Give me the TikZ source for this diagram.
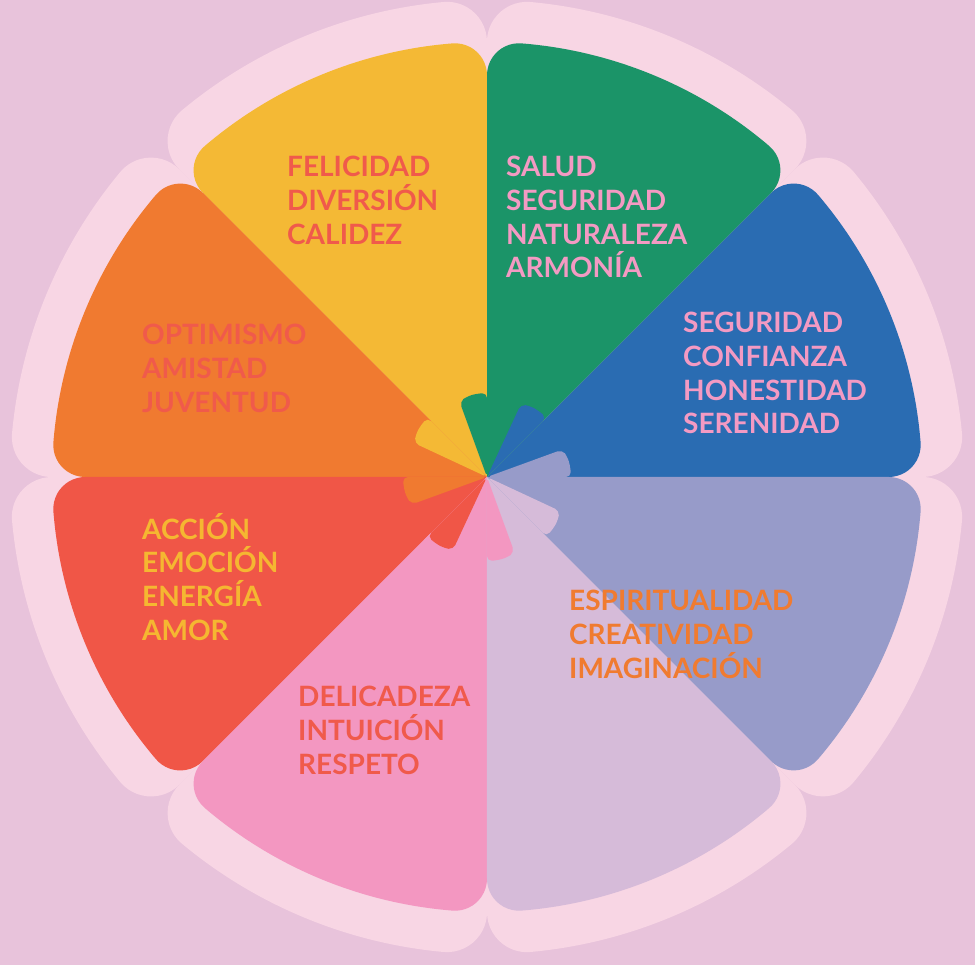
\documentclass[tikz,border=0pt]{standalone}
\usepackage{fontspec}
\setmainfont{Lato}
\definecolor{bgpink}{HTML}{E8C3DB}
\definecolor{rimpink}{HTML}{F8D6E4}
\definecolor{secyellow}{HTML}{F4B935}
\definecolor{secgreen}{HTML}{1B9468}
\definecolor{secblue}{HTML}{2A6CB2}
\definecolor{seclavender}{HTML}{979BC9}
\definecolor{seclilac}{HTML}{D6BBD9}
\definecolor{secpink}{HTML}{F397C1}
\definecolor{secred}{HTML}{F05647}
\definecolor{secorange}{HTML}{F07A30}
\definecolor{wordcoral}{HTML}{F05A4B}
\definecolor{wordpink}{HTML}{F39AC3}
\definecolor{wordyellow}{HTML}{F5B731}
\definecolor{wordorange}{HTML}{F07B30}

\begin{document}
\begin{tikzpicture}
		[x=1pt, y=1pt,
		wordsty/.style={anchor=north west, inner sep=0pt, align=left,
			font=\fontsize{28}{33.7}\selectfont\bfseries}]
		\fill[bgpink] (-487,-488) rectangle (488,477);
		
		\pgfmathsetmacro{\rimcut}{asin(40/437)}
		\pgfmathsetmacro{\rimfoot}{437*cos(\rimcut)}
		\pgfmathsetmacro{\seccut}{asin(32/403)}
		\pgfmathsetmacro{\secfoot}{403*cos(\seccut)}
		
		\foreach \ang in {0,45,...,315}
			\fill[rimpink] (0,0) -- (\ang:\rimfoot)
				arc[start angle=\ang-90, end angle=\ang+\rimcut, radius=40]
				arc[start angle=\ang+\rimcut, end angle=\ang+45-\rimcut, radius=477]
				arc[start angle=\ang+45-\rimcut, end angle=\ang+135, radius=40] -- cycle;
		
		\foreach \ang/\col in {0/secblue, 45/secgreen, 90/secyellow, 135/secorange,
				180/secred, 225/secpink, 270/seclilac, 315/seclavender}
			\fill[\col] (0,0) -- (\ang:\secfoot)
				arc[start angle=\ang-90, end angle=\ang+\seccut, radius=32]
				arc[start angle=\ang+\seccut, end angle=\ang+45-\seccut, radius=435]
				arc[start angle=\ang+45-\seccut, end angle=\ang+135, radius=32] -- cycle;
		
		\foreach \ang/\col in {0/secblue, 45/secgreen, 90/secyellow, 135/secorange,
				180/secred, 225/secpink, 270/seclilac, 315/seclavender}
			\fill[\col, rounded corners=5pt] (0,0) -- (\ang+45:84) -- (\ang+52:84)
				-- (\ang+59:83) -- (\ang+65:80) -- cycle;
		
		\node (text 1) at (-200, 321) [wordsty, text=wordcoral] {FELICIDAD\\DIVERSIÓN\\CALIDEZ};
		\node (text 2) at (19, 321) [wordsty, text=wordpink] {SALUD\\SEGURIDAD\\NATURALEZA\\ARMONÍA};
		\node (text 3) at (196, 165) [wordsty, text=wordpink] {SEGURIDAD\\CONFIANZA\\HONESTIDAD\\SERENIDAD};
		\node (text 4) at (-345, 153) [wordsty, text=wordcoral] {OPTIMISMO\\AMISTAD\\JUVENTUD};
		\node (text 5) at (-345, -36) [wordsty, text=wordyellow] {ACCIÓN\\EMOCIÓN\\ENERGÍA\\AMOR};
		\node (text 6) at (-189, -209) [wordsty, text=wordcoral] {DELICADEZA\\INTUICIÓN\\RESPETO};
		\node (text 7) at (82, -113) [wordsty, text=wordorange] {ESPIRITUALIDAD\\CREATIVIDAD\\IMAGINACIÓN};
	\end{tikzpicture}
\end{document}
